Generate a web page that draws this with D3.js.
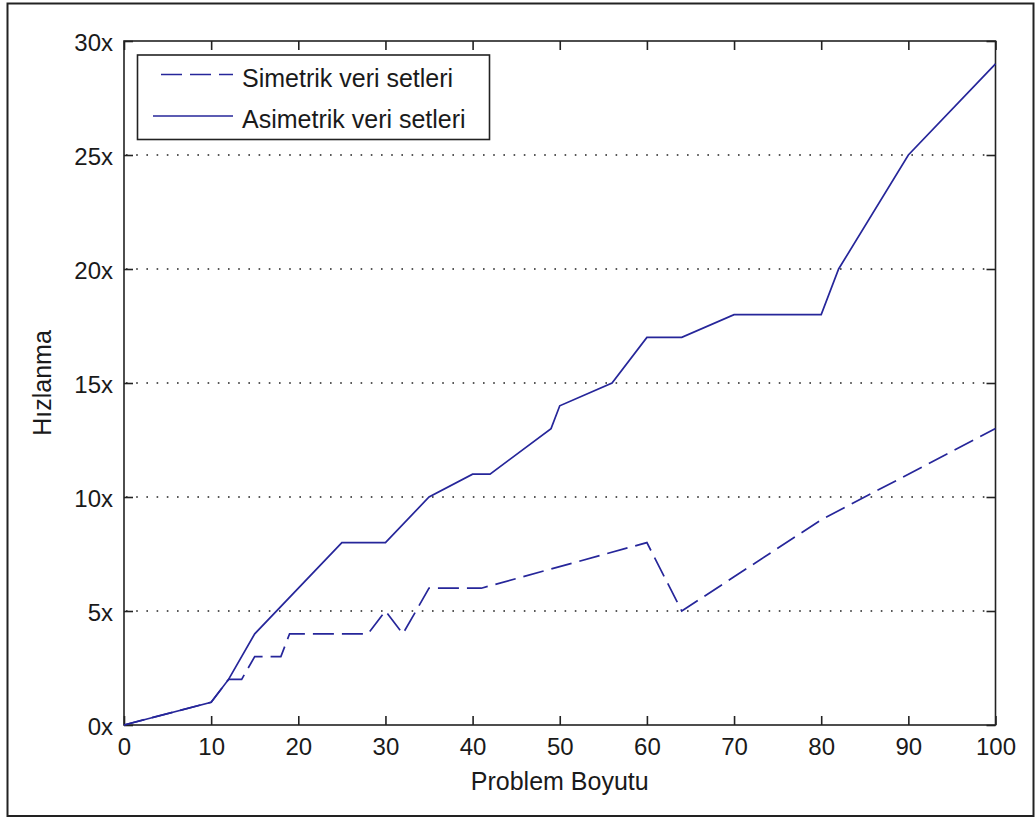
<!DOCTYPE html>
<html>
<head>
<meta charset="utf-8">
<script src="https://cdn.jsdelivr.net/npm/d3@7"></script>
<style>
  html, body { margin: 0; padding: 0; background: #fff; }
  svg { display: block; }
  text { font-family: "Liberation Sans", Arial, Helvetica, sans-serif; fill: #1a1a1a; }
</style>
</head>
<body>
<svg id="chart" width="1035" height="818"></svg>
<script>
// ---- data ----
const xTicks = [0, 10, 20, 30, 40, 50, 60, 70, 80, 90, 100];
const yTicks = [0, 5, 10, 15, 20, 25, 30];
const yTickLabels = ["0x", "5x", "10x", "15x", "20x", "25x", "30x"];
const gridValues = [5, 10, 15, 20, 25];

const seriesNames = ["Simetrik veri setleri", "Asimetrik veri setleri"];

const simX = [0, 10, 12, 13.5, 15, 18, 19, 28, 30, 32, 35, 41, 60, 64, 80, 100];
const simY = [0, 1, 2, 2, 3, 3, 4, 4, 5, 4, 6, 6, 8, 5, 9, 13];

const asimX = [0, 10, 12, 15, 25, 30, 35, 40, 42, 49, 50, 56, 60, 64, 70, 80, 82, 90, 100];
const asimY = [0, 1, 2, 4, 8, 8, 10, 11, 11, 13, 14, 15, 17, 17, 18, 18, 20, 25, 29];

const xLabel = "Problem Boyutu";
const yLabel = "Hızlanma";

// ---- layout ----
const L = 124, R = 995.5, T = 41, B = 725;
const lineColor = "#26269a";

const svg = d3.select("#chart");

// outer frame
svg.append("rect").attr("x", 7.5).attr("y", 3.5).attr("width", 1026).attr("height", 812.5)
  .attr("fill", "#fff").attr("stroke", "#222").attr("stroke-width", 2);

const x = d3.scaleLinear().domain([0, 100]).range([L, R]);
const y = d3.scaleLinear().domain([0, 30]).range([B, T]);

// grid
svg.append("g").selectAll("line").data(gridValues).join("line")
  .attr("x1", L + 2).attr("x2", R - 10)
  .attr("y1", d => y(d)).attr("y2", d => y(d))
  .attr("stroke", "#222").attr("stroke-width", 1.6)
  .attr("stroke-dasharray", "1.6,8.6");

// axes
const tick = 9;
const gB = svg.append("g").attr("transform", `translate(0,${B})`)
  .call(d3.axisBottom(x).tickValues(xTicks).tickSize(-tick).tickPadding(13).tickFormat(d3.format("d")));
const gT = svg.append("g").attr("transform", `translate(0,${T})`)
  .call(d3.axisTop(x).tickValues(xTicks).tickSize(-tick).tickFormat(""));
const gL = svg.append("g").attr("transform", `translate(${L},0)`)
  .call(d3.axisLeft(y).tickValues(yTicks).tickSize(-tick).tickPadding(11).tickFormat((d, i) => yTickLabels[i]));
const gR = svg.append("g").attr("transform", `translate(${R},0)`)
  .call(d3.axisRight(y).tickValues(yTicks).tickSize(-tick).tickFormat(""));

[gB, gT, gL, gR].forEach(g => {
  g.select(".domain").remove();
  g.selectAll(".tick line").attr("stroke", "#222").attr("stroke-width", 1.6);
  g.selectAll(".tick text").attr("font-size", 24).attr("fill", "#1a1a1a")
    .attr("font-family", "Liberation Sans, Arial, sans-serif");
});
gL.selectAll(".tick text").attr("dy", "0.40em");

// axes box
svg.append("rect").attr("x", L).attr("y", T).attr("width", R - L).attr("height", B - T)
  .attr("fill", "none").attr("stroke", "#222").attr("stroke-width", 1.6);

// lines
const line = d3.line().x(d => x(d[0])).y(d => y(d[1]));
const simData = simX.map((v, i) => [v, simY[i]]);
const asimData = asimX.map((v, i) => [v, asimY[i]]);

svg.append("path").datum(simData).attr("d", line)
  .attr("fill", "none").attr("stroke", lineColor).attr("stroke-width", 1.7)
  .attr("stroke-dasharray", "21,8");
svg.append("path").datum(asimData).attr("d", line)
  .attr("fill", "none").attr("stroke", lineColor).attr("stroke-width", 1.7);

// axis labels
svg.append("text").attr("x", (L + R) / 2).attr("y", 790).attr("text-anchor", "middle")
  .attr("font-size", 25).text(xLabel);
svg.append("text").attr("transform", "translate(51,383) rotate(-90)").attr("text-anchor", "middle")
  .attr("font-size", 25).text(yLabel);

// legend
const lg = svg.append("g");
lg.append("rect").attr("x", 137.5).attr("y", 55).attr("width", 352).attr("height", 84.5)
  .attr("fill", "#fff").attr("stroke", "#222").attr("stroke-width", 1.6);
lg.append("line").attr("x1", 161).attr("x2", 233).attr("y1", 74.5).attr("y2", 74.5)
  .attr("stroke", lineColor).attr("stroke-width", 1.7).attr("stroke-dasharray", "21,8");
lg.append("line").attr("x1", 153).attr("x2", 233).attr("y1", 116).attr("y2", 116)
  .attr("stroke", lineColor).attr("stroke-width", 1.7);
lg.append("text").attr("x", 242).attr("y", 86.5).attr("font-size", 25).text(seriesNames[0]);
lg.append("text").attr("x", 242).attr("y", 127.5).attr("font-size", 25).text(seriesNames[1]);
</script>
</body>
</html>
